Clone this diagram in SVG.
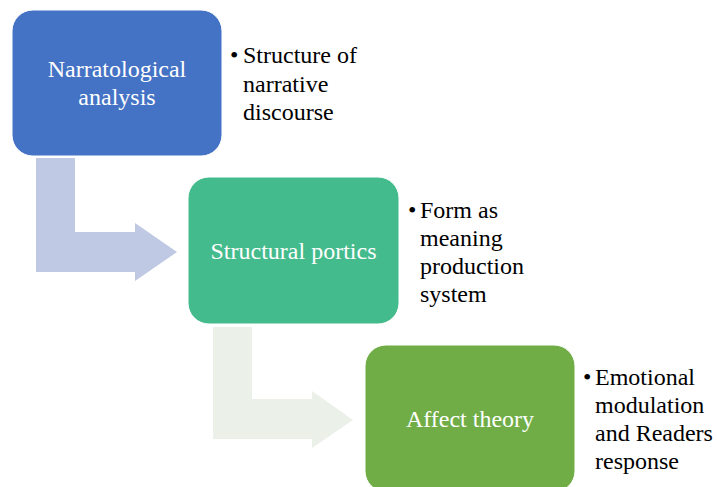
<svg xmlns="http://www.w3.org/2000/svg" width="717" height="487" viewBox="0 0 717 487">
<style>
.box-t{font-family:'Liberation Serif',serif;font-size:24px;fill:#ffffff;text-anchor:middle}
.sd{font-family:'Liberation Serif',serif;font-size:24px;fill:#000000}
</style>
<rect width="717" height="487" fill="#fff"/>
<g id="connectors">
<path d="M36,158 H75 V232 H135 V223 L177,252 L135,281 V272 H36 Z" fill="#BFC9E4"/>
<path d="M213,327 H252 V399 H312 V391 L353,420 L312,448 V439 H213 Z" fill="#EBF0E9"/>
</g>
<g id="node1">
<rect x="12" y="10" width="210" height="146" rx="21" fill="#4472C4" stroke="#fff" stroke-width="1"/>
<text class="box-t" x="117" y="77">Narratological</text>
<text class="box-t" x="117" y="105">analysis</text>
</g>
<g id="node1-text" font-family="Liberation Serif, serif">
<text class="sd" x="230" y="63">•</text>
<text class="sd" x="243" y="63">Structure of</text>
<text class="sd" x="243" y="92">narrative</text>
<text class="sd" x="243" y="120">discourse</text>
</g>
<g id="node2">
<rect x="188" y="177" width="211" height="147" rx="21" fill="#44BB8C" stroke="#fff" stroke-width="1"/>
<text class="box-t" x="293.5" y="259">Structural portics</text>
</g>
<g id="node2-text" font-family="Liberation Serif, serif">
<text class="sd" x="408" y="218">•</text>
<text class="sd" x="420" y="218">Form as</text>
<text class="sd" x="420" y="246">meaning</text>
<text class="sd" x="420" y="274">production</text>
<text class="sd" x="420" y="302">system</text>
</g>
<g id="node3">
<rect x="365" y="345" width="210" height="147" rx="21" fill="#70AD47" stroke="#fff" stroke-width="1"/>
<text class="box-t" x="470" y="427">Affect theory</text>
</g>
<g id="node3-text" font-family="Liberation Serif, serif">
<text class="sd" x="583" y="385">•</text>
<text class="sd" x="595" y="385">Emotional</text>
<text class="sd" x="595" y="413">modulation</text>
<text class="sd" x="595" y="441">and Readers</text>
<text class="sd" x="595" y="469">response</text>
</g>
</svg>
